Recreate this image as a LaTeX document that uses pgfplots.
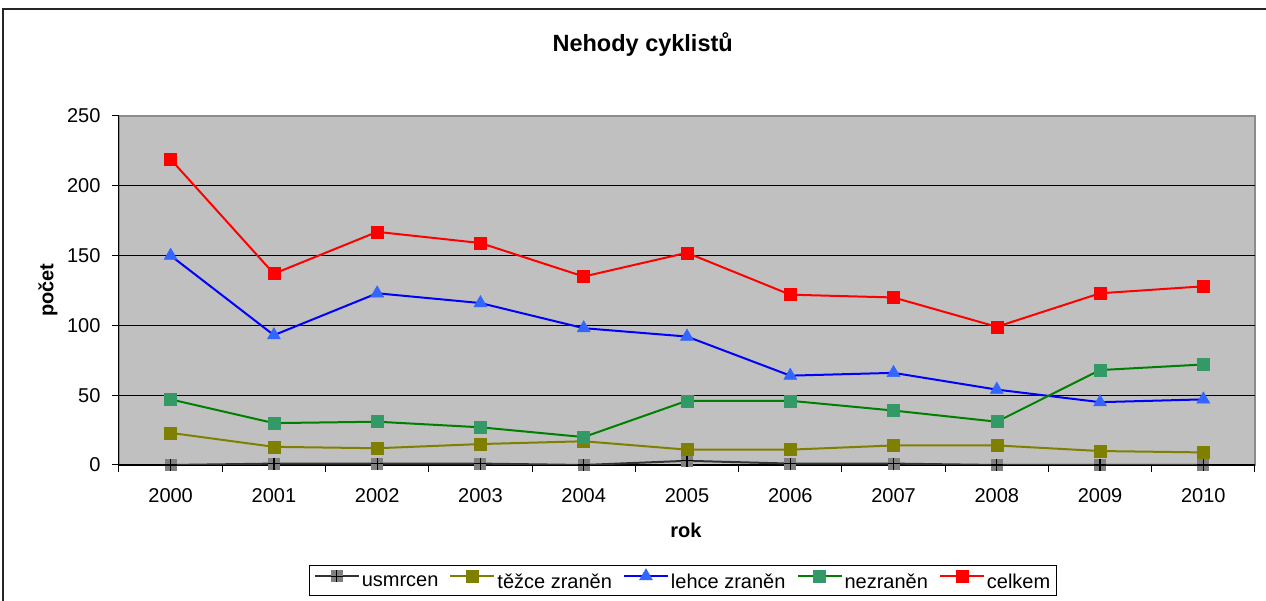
\documentclass[border=0pt]{standalone}
\usepackage{fontspec}
\setmainfont{Liberation Sans}
\usepackage{pgfplots}
\pgfplotsset{compat=1.18}
\definecolor{bggray}{HTML}{C0C0C0}
\definecolor{usmline}{HTML}{333333}
\definecolor{usmmark}{HTML}{808080}
\definecolor{olive}{HTML}{808000}
\definecolor{lehline}{HTML}{0000FF}
\definecolor{lehmark}{HTML}{3366FF}
\definecolor{nezline}{HTML}{008000}
\definecolor{nezmark}{HTML}{339966}
\definecolor{celred}{HTML}{FF0000}
\pgfdeclareplotmark{sqplus}{%
  \pgfpathrectangle{\pgfpoint{-\pgfplotmarksize}{-\pgfplotmarksize}}{\pgfpoint{2\pgfplotmarksize}{2\pgfplotmarksize}}%
  \pgfsetfillcolor{usmmark}\pgfusepathqfill
  \pgfpathmoveto{\pgfpoint{-\pgfplotmarksize}{0pt}}\pgfpathlineto{\pgfpoint{\pgfplotmarksize}{0pt}}%
  \pgfpathmoveto{\pgfpoint{0pt}{-\pgfplotmarksize}}\pgfpathlineto{\pgfpoint{0pt}{\pgfplotmarksize}}%
  \pgfsetstrokecolor{black}\pgfsetlinewidth{1.2pt}\pgfusepathqstroke}
\begin{document}
\begin{tikzpicture}
\useasboundingbox (0,0) rectangle (1266pt,601pt);
\draw[black!85, line width=1.2pt] (3pt,-10pt) rectangle (1280pt,592pt);
\begin{axis}[
  at={(119pt,136pt)}, anchor=south west,
  scale only axis, width=1136pt, height=349pt,
  xmin=1999.5, xmax=2010.5, ymin=0, ymax=250,
  axis lines=left, axis line style={-, black, line width=1pt},
  axis background/.style={fill=bggray, draw=black!45, line width=2pt},
  xtick={1999.5,2000.5,2001.5,2002.5,2003.5,2004.5,2005.5,2006.5,2007.5,2008.5,2009.5,2010.5},
  xticklabels={2000,2001,2002,2003,2004,2005,2006,2007,2008,2009,2010},
  x tick label as interval,
  ytick={0,50,100,150,200}, extra y ticks={250}, extra y tick style={grid=none},
  ymajorgrids, grid style={black, line width=0.9pt},
  tick align=outside, major tick length=7pt,
  tick style={black, line width=1pt},
  /pgf/number format/assume math mode=true,
  tick label style={font=\fontsize{20}{23}\selectfont},
  xticklabel style={yshift=-13pt},
  yticklabel style={xshift=-8pt},
  title={\textbf{Nehody cyklistů}},
  title style={at={(axis description cs:0.461,1.189)}, anchor=center, font=\fontsize{23.5}{27}\selectfont},
  xlabel={\textbf{rok}},
  xlabel style={at={(axis description cs:0.499,-0.186)}, anchor=center, font=\fontsize{20}{23}\selectfont},
  ylabel={\textbf{počet}},
  ylabel style={at={(axis description cs:-0.0625,0.501)}, anchor=center, rotate=0, font=\fontsize{20}{23}\selectfont},
  legend columns=5,
  legend style={at={(axis description cs:0.4965,-0.331)}, anchor=center, draw=black, line width=0.8pt, fill=white,
    font=\fontsize{20}{23}\selectfont, inner xsep=4pt, inner ysep=3pt,
    /tikz/every even column/.append style={column sep=9pt}},
  legend image code/.code={\draw[mark repeat=2,mark phase=2,#1] plot coordinates {(0pt,6pt) (22pt,6pt) (44pt,6pt)};},
  every axis plot/.append style={line width=2pt},
]
\addplot[usmline, mark=sqplus, mark size=6pt] coordinates {
 (2000,0) (2001,1) (2002,1) (2003,1) (2004,0) (2005,3) (2006,1) (2007,1) (2008,0) (2009,0) (2010,0)};
\addlegendentry{usmrcen}
\addplot[olive, mark=square*, mark size=6pt, mark options={fill=olive, draw=olive, line width=0.5pt}] coordinates {
 (2000,23) (2001,13) (2002,12) (2003,15) (2004,17) (2005,11) (2006,11) (2007,14) (2008,14) (2009,10) (2010,9)};
\addlegendentry{těžce zraněn}
\addplot[lehline, mark=triangle*, mark size=7.5pt, mark options={fill=lehmark, draw=lehmark, line width=0.5pt}] coordinates {
 (2000,150) (2001,93) (2002,123) (2003,116) (2004,98) (2005,92) (2006,64) (2007,66) (2008,54) (2009,45) (2010,47)};
\addlegendentry{lehce zraněn}
\addplot[nezline, mark=square*, mark size=6pt, mark options={fill=nezmark, draw=nezmark, line width=0.5pt}] coordinates {
 (2000,47) (2001,30) (2002,31) (2003,27) (2004,20) (2005,46) (2006,46) (2007,39) (2008,31) (2009,68) (2010,72)};
\addlegendentry{nezraněn}
\addplot[celred, mark=square*, mark size=6pt, mark options={fill=celred, draw=celred, line width=0.5pt}] coordinates {
 (2000,219) (2001,137) (2002,167) (2003,159) (2004,135) (2005,152) (2006,122) (2007,120) (2008,99) (2009,123) (2010,128)};
\addlegendentry{celkem}
\end{axis}
\end{tikzpicture}
\end{document}
